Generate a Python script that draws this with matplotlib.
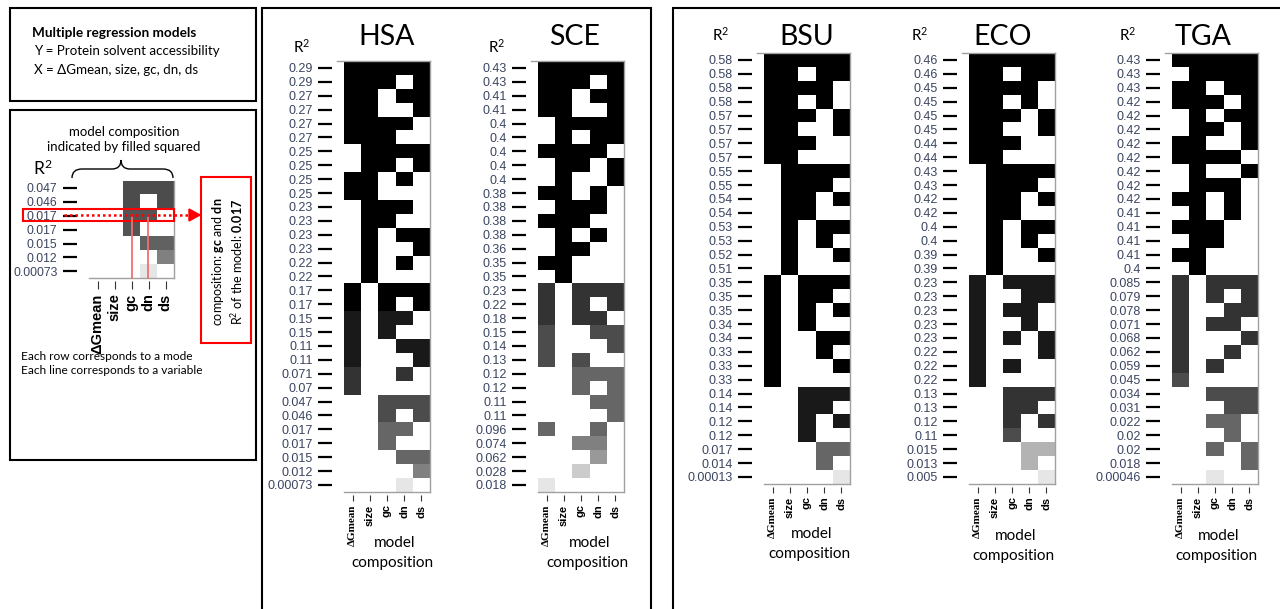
import matplotlib
matplotlib.use('Agg')
import matplotlib.pyplot as plt
import numpy as np
from matplotlib.patches import Rectangle, Polygon, PathPatch
from matplotlib.path import Path
from matplotlib.lines import Line2D

plt.rcParams['font.family'] = ['Lato', 'DejaVu Sans']
plt.rcParams['mathtext.fontset'] = 'custom'
plt.rcParams['mathtext.rm'] = 'Lato'
plt.rcParams['mathtext.it'] = 'Lato:italic'
plt.rcParams['mathtext.bf'] = 'Lato:bold'

# variables in the models (columns)
variables = ['ΔGmean', 'size', 'gc', 'dn', 'ds']

# R2 of each model (row labels), model composition (1 = variable in model), grey level of row
hsa_r2 = ['0.29', '0.29', '0.27', '0.27', '0.27', '0.27', '0.25', '0.25', '0.25', '0.25', '0.23',
          '0.23', '0.23', '0.23', '0.22', '0.22', '0.17', '0.17', '0.15', '0.15', '0.11', '0.11',
          '0.071', '0.07', '0.047', '0.046', '0.017', '0.017', '0.015', '0.012', '0.00073']
hsa_models = ['11111', '11101', '11011', '11001', '11110', '11100', '01111', '01101', '11010', '11000',
              '01110', '01100', '01011', '01001', '01010', '01000', '10111', '10101', '10110', '10100',
              '10011', '10001', '10010', '10000', '00111', '00101', '00110', '00100', '00011', '00001', '00010']
hsa_shade = [0, 0, 0, 0, 0, 0, 0, 0, 0, 0, 0, 0, 0, 0, 0, 0, 0, 0, 0.1, 0.1, 0.1, 0.1,
             0.2, 0.2, 0.3, 0.3, 0.4, 0.4, 0.4, 0.5, 0.9]

sce_r2 = ['0.43', '0.43', '0.41', '0.41', '0.4', '0.4', '0.4', '0.4', '0.4', '0.38', '0.38',
          '0.38', '0.38', '0.36', '0.35', '0.35', '0.23', '0.22', '0.18', '0.15', '0.14', '0.13',
          '0.12', '0.12', '0.11', '0.11', '0.096', '0.074', '0.062', '0.028', '0.018']
sce_models = ['11111', '11101', '11011', '11001', '01111', '01011', '11110', '01101', '01001', '11010',
              '01110', '11100', '01010', '01100', '11000', '01000', '10111', '10101', '10110', '10011',
              '10001', '10100', '00111', '00101', '00011', '00001', '10010', '00110', '00010', '00100', '10000']
sce_shade = [0, 0, 0, 0, 0, 0, 0, 0, 0, 0, 0, 0, 0, 0, 0, 0, 0.2, 0.2, 0.2, 0.3, 0.3, 0.3,
             0.4, 0.4, 0.4, 0.4, 0.4, 0.5, 0.6, 0.8, 0.9]

bsu_r2 = ['0.58', '0.58', '0.58', '0.58', '0.57', '0.57', '0.57', '0.57', '0.55', '0.55', '0.54',
          '0.54', '0.53', '0.53', '0.52', '0.51', '0.35', '0.35', '0.35', '0.34', '0.34', '0.33',
          '0.33', '0.33', '0.14', '0.14', '0.12', '0.12', '0.017', '0.014', '0.00013']
bsu_models = ['11111', '11011', '11110', '11010', '11101', '11001', '11100', '11000', '01111', '01110',
              '01101', '01100', '01011', '01010', '01001', '01000', '10111', '10110', '10101', '10100',
              '10011', '10010', '10001', '10000', '00111', '00110', '00101', '00100', '00011', '00010', '00001']
bsu_shade = [0, 0, 0, 0, 0, 0, 0, 0, 0, 0, 0, 0, 0, 0, 0, 0, 0, 0, 0, 0, 0, 0,
             0, 0, 0.1, 0.1, 0.1, 0.1, 0.4, 0.4, 0.9]

eco_r2 = ['0.46', '0.46', '0.45', '0.45', '0.45', '0.45', '0.44', '0.44', '0.43', '0.43', '0.42',
          '0.42', '0.4', '0.4', '0.39', '0.39', '0.23', '0.23', '0.23', '0.23', '0.23', '0.22',
          '0.22', '0.22', '0.13', '0.13', '0.12', '0.11', '0.015', '0.013', '0.005']
eco_models = ['11111', '11011', '11110', '11010', '11101', '11001', '11100', '11000', '01111', '01110',
              '01101', '01100', '01011', '01010', '01001', '01000', '10111', '10011', '10110', '10010',
              '10101', '10001', '10100', '10000', '00111', '00110', '00101', '00100', '00011', '00010', '00001']
eco_shade = [0, 0, 0, 0, 0, 0, 0, 0, 0, 0, 0, 0, 0, 0, 0, 0, 0.1, 0.1, 0.1, 0.1, 0.1, 0.1,
             0.1, 0.1, 0.2, 0.2, 0.2, 0.3, 0.7, 0.7, 0.9]

tga_r2 = ['0.43', '0.43', '0.43', '0.42', '0.42', '0.42', '0.42', '0.42', '0.42', '0.42', '0.42',
          '0.41', '0.41', '0.41', '0.41', '0.4', '0.085', '0.079', '0.078', '0.071', '0.068', '0.062',
          '0.059', '0.045', '0.034', '0.031', '0.022', '0.02', '0.02', '0.018', '0.00046']
tga_models = ['11111', '01111', '11011', '11101', '01011', '01101', '11001', '11110', '01001', '01110',
              '11010', '01010', '11100', '01100', '11000', '01000', '10111', '10101', '10011', '10110',
              '10001', '10010', '10100', '10000', '00111', '00011', '00110', '00010', '00101', '00001', '00100']
tga_shade = [0, 0, 0, 0, 0, 0, 0, 0, 0, 0, 0, 0, 0, 0, 0, 0, 0.2, 0.2, 0.2, 0.2, 0.2, 0.2,
             0.2, 0.3, 0.3, 0.3, 0.4, 0.4, 0.4, 0.4, 0.9]

# small example in the legend box = last 7 HSA models
mini_r2 = hsa_r2[24:]
mini_models = hsa_models[24:]
mini_shade = [0.3, 0.3, 0.33, 0.33, 0.38, 0.5, 0.9]

W, H = 1280, 609
fig = plt.figure(figsize=(W / 100, H / 100), dpi=100)


def fx(x):
    return x / W


def fy(y):
    return 1 - y / H


def box(x0, y0, x1, y1, color='black', lw=1.5):
    fig.add_artist(Rectangle((fx(x0), fy(y1)), (x1 - x0) / W, (y1 - y0) / H, transform=fig.transFigure,
                             fill=False, edgecolor=color, lw=lw))


def txt(x, y, s, **kw):
    kw.setdefault('ha', 'left')
    kw.setdefault('va', 'center')
    fig.text(fx(x), fy(y), s, **kw)


def line(xs, ys, **kw):
    fig.add_artist(Line2D([fx(v) for v in xs], [fy(v) for v in ys], transform=fig.transFigure, **kw))


def panel(x0, y0, r2, models, shade, extra=7, cw=17.2, rh=13.9, ticklen=10, tickout=5, tickpad=4,
          lsize=9, xsize=8, serif_dg=True, top=True, xtick_len=4):
    n = len(r2)
    img = np.ones((n, len(variables)))
    for i, m in enumerate(models):
        for j, c in enumerate(m):
            if c == '1':
                img[i, j] = shade[i]
    ax = fig.add_axes([fx(x0 - extra), fy(y0 + n * rh), (5 * cw + extra) / W, n * rh / H])
    ax.imshow(img, cmap='gray', vmin=0, vmax=1, aspect='auto', interpolation='nearest',
              extent=(-0.5, 4.5, n - 0.5, -0.5))
    ax.set_xlim(-0.5 - extra / cw, 4.5)
    ax.set_ylim(n - 0.5, -0.5)
    for s in ['top', 'right']:
        ax.spines[s].set_color('#a0a0a0')
        ax.spines[s].set_linewidth(1)
    ax.spines['top'].set_visible(top)
    ax.spines['left'].set_visible(False)
    ax.spines['left'].set_position(('outward', tickout * 0.72))
    ax.spines['bottom'].set_visible(False)
    ax.spines['bottom'].set_position(('outward', 2))
    ax.plot([-0.5, 4.5], [n - 0.5, n - 0.5], color='#a0a0a0', lw=1, clip_on=False)
    ax.tick_params(axis='y', length=ticklen, width=1.6, pad=tickpad, color='black')
    ax.set_yticks(range(n))
    ax.set_yticklabels(r2, fontfamily='Liberation Sans', fontsize=lsize, color='#3b4560')
    ax.tick_params(axis='x', length=xtick_len, width=0.8, pad=3, color='#333333')
    ax.set_xticks(range(5))
    ax.set_xticklabels(variables, rotation=90, fontweight='bold', fontsize=xsize,
                       fontfamily='Liberation Sans')
    if serif_dg:
        ax.get_xticklabels()[0].set_fontfamily('Liberation Serif')
    return ax


# frames
box(10, 8, 256, 101)
box(10, 110, 256, 460)
box(262, 8, 651, 640)
box(673, 8, 1300, 640)

# legend text
txt(32, 33, 'Multiple regression models', fontsize=9.8, fontweight='bold')
txt(34, 51, 'Y = Protein solvent accessibility', fontsize=9.6)
txt(34, 70, 'X = ΔGmean, size, gc, dn, ds', fontsize=9.6)
txt(124, 132, 'model composition', fontsize=9.5, ha='center')
txt(124, 147, 'indicated by filled squared', fontsize=9.5, ha='center')
txt(43, 168, 'R$^2$', fontsize=12.5, ha='center')
txt(21, 356, 'Each row corresponds to a mode', fontsize=8.6)
txt(21, 371, 'Each line corresponds to a variable', fontsize=8.6)

# brace over the example
bx = [(72, 178), (72, 169), (82, 169), (112, 169), (121, 169), (121, 160),
      (121, 169), (130, 169), (163, 169), (173, 169), (173, 178)]
codes = [Path.MOVETO, Path.CURVE3, Path.CURVE3, Path.LINETO, Path.CURVE3, Path.CURVE3,
         Path.CURVE3, Path.CURVE3, Path.LINETO, Path.CURVE3, Path.CURVE3]
fig.add_artist(PathPatch(Path([(fx(a), fy(b)) for a, b in bx], codes), transform=fig.transFigure,
                         fill=False, edgecolor='black', lw=1))

# example panel
panel(89, 181, mini_r2, mini_models, mini_shade, extra=0, cw=17, rh=13.9, ticklen=10, tickout=12,
      tickpad=4, lsize=8.8, xsize=10.5, serif_dg=False, top=False, xtick_len=6)

# red annotations
box(23, 209, 174, 221, color='red', lw=1.5)
line([132, 132], [215, 278], color='#f07070', lw=1.3)
line([148, 148], [215, 278], color='#f07070', lw=1.3)
line([64, 190], [215, 215], color='red', lw=1.8, ls=(0, (1, 1.2)))
fig.add_artist(Polygon([(fx(189), fy(209)), (fx(189), fy(221)), (fx(200), fy(215))], closed=True,
                       transform=fig.transFigure, color='red'))
box(201, 177, 251, 343, color='red', lw=1.5)
txt(218, 262, r'composition: $\mathbf{gc}$ and $\mathbf{dn}$', fontsize=9, rotation=90, ha='center')
txt(237, 262, r'R$^2$ of the model: $\mathbf{0.017}$', fontsize=9, rotation=90, ha='center')

# species panels: (cells left, cells top, title x, R2 x, R2 y, model-text x, model-text y)
panels = [
    ('HSA', hsa_r2, hsa_models, hsa_shade, 344, 61, 387, 302, 47, 395, 543),
    ('SCE', sce_r2, sce_models, sce_shade, 538, 61, 575, 497, 47, 590, 543),
    ('BSU', bsu_r2, bsu_models, bsu_shade, 764, 53, 807, 721, 35, 812, 534),
    ('ECO', eco_r2, eco_models, eco_shade, 969, 53, 1003, 920, 35, 1016, 536),
    ('TGA', tga_r2, tga_models, tga_shade, 1172, 53, 1203, 1128, 35, 1219, 536),
]
for name, r2, models, shade, x0, y0, tx, rx, ry, mx, my in panels:
    panel(x0, y0, r2, models, shade)
    txt(tx, 37, name, fontsize=20.5, ha='center')
    txt(rx, ry, 'R$^2$', fontsize=11, ha='center')
    txt(mx, my, 'model', fontsize=11, ha='center')
    txt(mx - 3, my + 20, 'composition', fontsize=11, ha='center')

plt.savefig('out.png', dpi=100)
